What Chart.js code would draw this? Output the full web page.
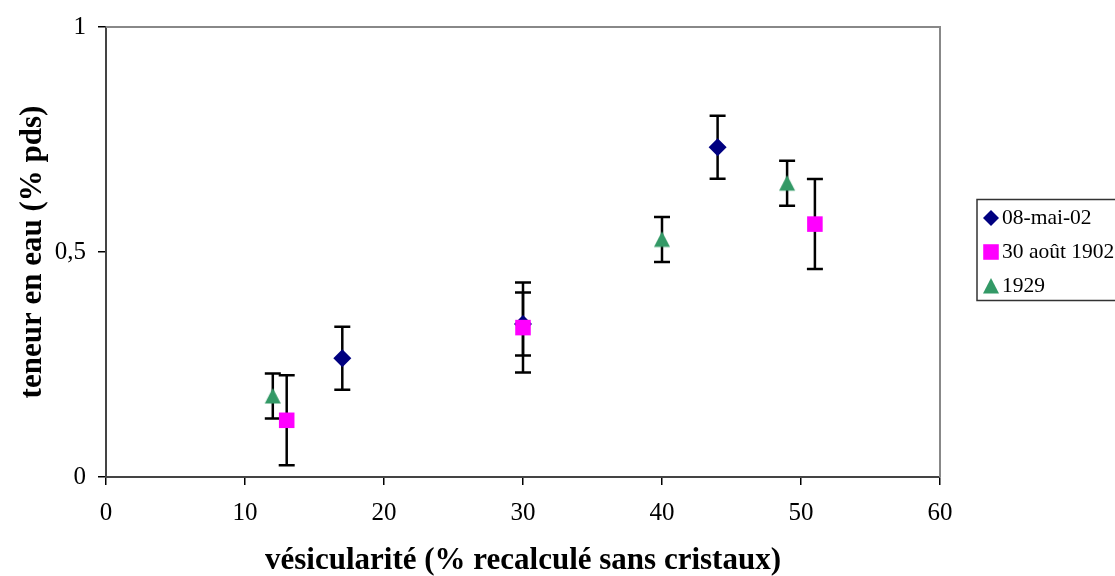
<!DOCTYPE html>
<html>
<head>
<meta charset="utf-8">
<script src="https://cdn.jsdelivr.net/npm/chart.js@4/dist/chart.umd.min.js"></script>
<style>
  html, body { margin: 0; padding: 0; background: #fff; }
  #wrap { width: 1115px; height: 576px; }
</style>
</head>
<body>
<div id="wrap"><canvas id="chart" width="1115" height="576"></canvas></div>
<script>
// séries
const seriesNames = ["08-mai-02", "30 août 1902", "1929"];

const maiX = [17, 30, 44];
const maiY = [0.264, 0.34, 0.733];
const maiErr = [0.07, 0.07, 0.07];

const aoutX = [13, 30, 51];
const aoutY = [0.126, 0.332, 0.562];
const aoutErr = [0.1, 0.1, 0.1];

const annee1929X = [12, 40, 49];
const annee1929Y = [0.18, 0.528, 0.653];
const annee1929Err = [0.05, 0.05, 0.05];

const xTicks = [0, 10, 20, 30, 40, 50, 60];
const yTicks = [0, 0.5, 1];

const serif = "'Times New Roman', 'Liberation Serif', serif";

// petit triangle centré (le triangle natif de Chart.js est décalé vers le haut)
function makeTriangle(color) {
    const c = document.createElement("canvas");
    c.width = 18; c.height = 18;
    const g = c.getContext("2d");
    g.fillStyle = color;
    g.beginPath();
    g.moveTo(9, 1);
    g.lineTo(17, 16.5);
    g.lineTo(1, 16.5);
    g.closePath();
    g.fill();
    return c;
}

const toPoints = (xs, ys) => xs.map((x, i) => ({ x, y: ys[i] }));

// barres d'erreur verticales, dessinées sous les marqueurs
const errorBars = {
    id: "errorBars",
    beforeDatasetsDraw(chart) {
        const { ctx, scales: { x, y } } = chart;
        ctx.save();
        ctx.strokeStyle = "#000";
        ctx.lineWidth = 2.5;
        chart.data.datasets.forEach(ds => {
            ds.data.forEach((p, i) => {
                const px = x.getPixelForValue(p.x);
                const top = y.getPixelForValue(p.y + ds.errors[i]);
                const bot = y.getPixelForValue(p.y - ds.errors[i]);
                ctx.beginPath();
                ctx.moveTo(px, top); ctx.lineTo(px, bot);
                ctx.moveTo(px - 8, top); ctx.lineTo(px + 8, top);
                ctx.moveTo(px - 8, bot); ctx.lineTo(px + 8, bot);
                ctx.stroke();
            });
        });
        ctx.restore();
    }
};

// cadre gris haut / droite de la zone de tracé
const plotFrame = {
    id: "plotFrame",
    beforeDatasetsDraw(chart) {
        const { ctx, chartArea: a } = chart;
        ctx.save();
        ctx.strokeStyle = "#888";
        ctx.lineWidth = 2;
        ctx.beginPath();
        ctx.moveTo(a.left, a.top);
        ctx.lineTo(a.right, a.top);
        ctx.lineTo(a.right, a.bottom);
        ctx.stroke();
        ctx.restore();
    }
};

// légende encadrée à droite
const legendBox = {
    id: "legendBox",
    afterDraw(chart) {
        const ctx = chart.ctx;
        ctx.save();
        ctx.strokeStyle = "#333";
        ctx.lineWidth = 1.5;
        ctx.strokeRect(977, 199.5, 160, 101);
        ctx.font = "21.5px " + serif;
        ctx.textBaseline = "middle";
        ctx.textAlign = "left";
        seriesNames.forEach((name, i) => {
            const ds = chart.data.datasets.find(d => d.label === name);
            const cy = 218 + i * 34;
            ctx.fillStyle = ds.backgroundColor;
            Chart.helpers.drawPoint(ctx, {
                pointStyle: ds.pointStyle,
                radius: ds.legendRadius,
                rotation: 0,
                borderWidth: 0
            }, 991, cy);
            ctx.fillStyle = "#000";
            ctx.fillText(name, 1002, cy);
        });
        ctx.restore();
    }
};

new Chart(document.getElementById("chart"), {
    type: "scatter",
    data: {
        datasets: [
            {
                label: seriesNames[0],
                data: toPoints(maiX, maiY),
                errors: maiErr,
                pointStyle: "rectRot",
                pointRadius: 9,
                legendRadius: 8,
                backgroundColor: "#000080",
                borderWidth: 0,
                order: 3
            },
            {
                label: seriesNames[1],
                data: toPoints(aoutX, aoutY),
                errors: aoutErr,
                pointStyle: "rect",
                pointRadius: 11,
                legendRadius: 11,
                backgroundColor: "#FF00FF",
                borderWidth: 0,
                order: 2
            },
            {
                label: seriesNames[2],
                data: toPoints(annee1929X, annee1929Y),
                errors: annee1929Err,
                pointStyle: makeTriangle("#339966"),
                pointRadius: 9,
                legendRadius: 9,
                backgroundColor: "#339966",
                borderWidth: 0,
                order: 1
            }
        ]
    },
    options: {
        responsive: false,
        animation: false,
        events: [],
        layout: { padding: { top: 23, right: 175, left: 0, bottom: 0 } },
        plugins: {
            legend: { display: false },
            tooltip: { enabled: false }
        },
        scales: {
            x: {
                type: "linear",
                min: 0,
                max: 60,
                afterBuildTicks: s => { s.ticks = xTicks.map(v => ({ value: v })); },
                afterFit: s => { s.height = 99; },
                grid: { drawOnChartArea: false, drawTicks: true, tickLength: 8, color: "#000", lineWidth: 1.5 },
                border: { color: "#444", width: 2 },
                ticks: { color: "#000", padding: 13, font: { family: serif, size: 25 } },
                title: {
                    display: true,
                    text: "vésicularité (% recalculé sans cristaux)",
                    color: "#000",
                    padding: 0,
                    font: { family: serif, size: 31, weight: "bold", lineHeight: 1 }
                }
            },
            y: {
                type: "linear",
                min: 0,
                max: 1,
                afterBuildTicks: s => { s.ticks = yTicks.map(v => ({ value: v })); },
                afterFit: s => { s.width = 106; },
                grid: { drawOnChartArea: false, drawTicks: true, tickLength: 8, color: "#000", lineWidth: 1.5 },
                border: { color: "#444", width: 2 },
                ticks: {
                    color: "#000",
                    padding: 12,
                    font: { family: serif, size: 25 },
                    callback: v => String(v).replace(".", ",")
                },
                title: {
                    display: true,
                    text: "teneur en eau (% pds)",
                    color: "#000",
                    padding: { top: 17, bottom: 0 },
                    font: { family: serif, size: 31, weight: "bold", lineHeight: 1 }
                }
            }
        }
    },
    plugins: [plotFrame, errorBars, legendBox]
});
</script>
</body>
</html>
